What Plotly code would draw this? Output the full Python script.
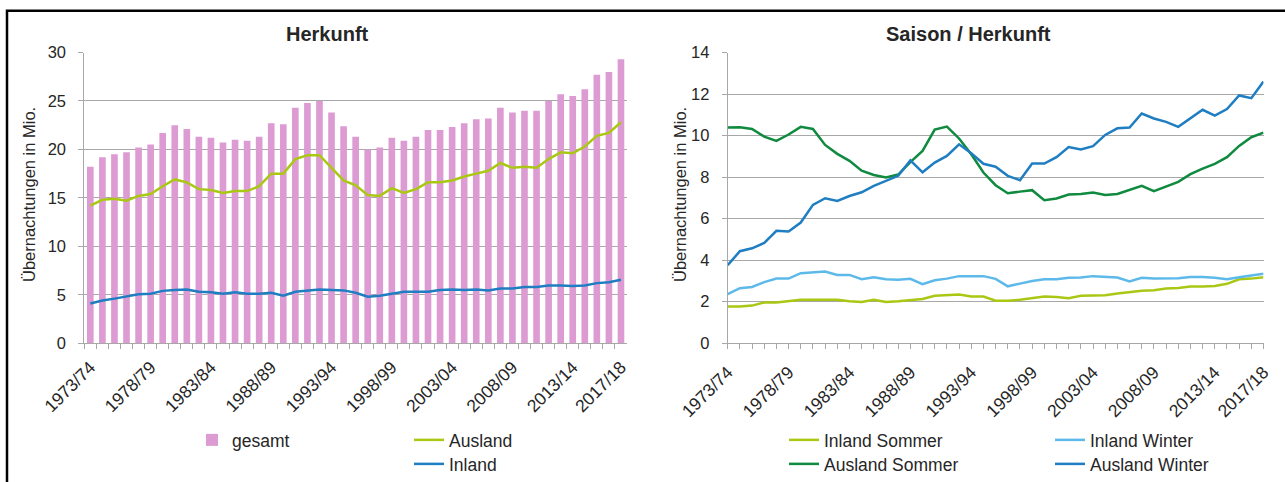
import plotly.graph_objects as go

# ---------------- data ----------------
seasons = [
    "1973/74", "1974/75", "1975/76", "1976/77", "1977/78", "1978/79", "1979/80", "1980/81", "1981/82",
    "1982/83", "1983/84", "1984/85", "1985/86", "1986/87", "1987/88", "1988/89", "1989/90", "1990/91",
    "1991/92", "1992/93", "1993/94", "1994/95", "1995/96", "1996/97", "1997/98", "1998/99", "1999/00",
    "2000/01", "2001/02", "2002/03", "2003/04", "2004/05", "2005/06", "2006/07", "2007/08", "2008/09",
    "2009/10", "2010/11", "2011/12", "2012/13", "2013/14", "2014/15", "2015/16", "2016/17", "2017/18",
]
shown_labels = ["1973/74", "1978/79", "1983/84", "1988/89", "1993/94", "1998/99",
                "2003/04", "2008/09", "2013/14", "2017/18"]

gesamt = [18.2, 19.2, 19.5, 19.7, 20.2, 20.5, 21.7, 22.5, 22.1, 21.3, 21.2, 20.7, 21.0, 20.9, 21.3,
          22.7, 22.6, 24.3, 24.8, 25.0, 23.8, 22.4, 21.3, 20.0, 20.2, 21.2, 20.9, 21.3, 22.0, 22.0,
          22.3, 22.7, 23.1, 23.2, 24.3, 23.8, 24.0, 24.0, 25.0, 25.7, 25.5, 26.2, 27.7, 28.0, 29.3]
ausland = [14.2, 14.8, 14.9, 14.7, 15.2, 15.4, 16.2, 16.9, 16.6, 15.9, 15.8, 15.5, 15.7, 15.7, 16.2,
           17.5, 17.5, 19.0, 19.4, 19.4, 18.1, 16.8, 16.3, 15.3, 15.2, 16.0, 15.5, 15.9, 16.6, 16.6,
           16.8, 17.2, 17.5, 17.8, 18.6, 18.1, 18.2, 18.1, 19.0, 19.7, 19.6, 20.3, 21.4, 21.7, 22.8]
inland = [4.1, 4.4, 4.6, 4.8, 5.05, 5.1, 5.4, 5.5, 5.55, 5.3, 5.25, 5.1, 5.25, 5.1, 5.1,
          5.2, 4.9, 5.3, 5.4, 5.55, 5.5, 5.45, 5.2, 4.8, 4.9, 5.1, 5.3, 5.3, 5.3, 5.5,
          5.55, 5.5, 5.55, 5.45, 5.65, 5.65, 5.8, 5.8, 5.95, 5.95, 5.9, 5.95, 6.2, 6.3, 6.55]

inland_sommer = [1.77, 1.77, 1.81, 1.96, 1.96, 2.02, 2.09, 2.09, 2.09, 2.09, 2.02, 1.99, 2.09, 1.99, 2.02,
                 2.09, 2.13, 2.28, 2.31, 2.34, 2.25, 2.25, 2.05, 2.05, 2.09, 2.18, 2.25, 2.22, 2.17, 2.28,
                 2.28, 2.31, 2.39, 2.46, 2.52, 2.55, 2.63, 2.66, 2.73, 2.73, 2.76, 2.86, 3.08, 3.11, 3.18]
inland_winter = [2.36, 2.65, 2.71, 2.94, 3.11, 3.11, 3.37, 3.42, 3.45, 3.29, 3.29, 3.08, 3.18, 3.08, 3.05,
                 3.10, 2.84, 3.03, 3.11, 3.23, 3.23, 3.23, 3.10, 2.74, 2.87, 3.00, 3.08, 3.08, 3.15, 3.16,
                 3.23, 3.21, 3.16, 2.97, 3.15, 3.11, 3.13, 3.13, 3.19, 3.19, 3.15, 3.08, 3.18, 3.27, 3.35]
ausland_sommer = [10.39, 10.40, 10.32, 9.95, 9.74, 10.05, 10.42, 10.32, 9.55, 9.12, 8.78, 8.31, 8.10, 7.98, 8.12,
                  8.72, 9.26, 10.29, 10.43, 9.86, 9.10, 8.22, 7.61, 7.22, 7.30, 7.37, 6.89, 6.97, 7.16, 7.19,
                  7.26, 7.14, 7.19, 7.38, 7.58, 7.32, 7.53, 7.77, 8.14, 8.41, 8.64, 8.96, 9.50, 9.92, 10.14]
ausland_winter = [3.76, 4.43, 4.57, 4.83, 5.41, 5.38, 5.81, 6.66, 6.98, 6.85, 7.09, 7.27, 7.58, 7.83, 8.06,
                  8.80, 8.23, 8.70, 9.02, 9.58, 9.15, 8.64, 8.50, 8.06, 7.85, 8.65, 8.65, 8.96, 9.45, 9.33,
                  9.49, 10.03, 10.35, 10.39, 11.06, 10.82, 10.66, 10.42, 10.83, 11.24, 10.96, 11.28, 11.93, 11.80, 12.60]

left_yticks = [0, 5, 10, 15, 20, 25, 30]
right_yticks = [0, 2, 4, 6, 8, 10, 12, 14]

# ---------------- style ----------------
W, H = 1285, 482
FONT = "Liberation Sans, Arial, sans-serif"
TXT = "#262626"
GRID = "#a8a8a8"
C_GESAMT = "#dc9bd2"
C_LIME = "#a9c814"
C_BLUE = "#1f7ec2"
C_DGREEN = "#0f8a3f"
C_LBLUE = "#5db9ea"


def px_x(p):
    return p / W


def px_y(p):
    return 1 - p / H


tick_text = [s if s in shown_labels else "" for s in seasons]

fig = go.Figure()

fig.add_trace(go.Bar(x=seasons, y=gesamt, name="gesamt", marker=dict(color=C_GESAMT, line=dict(width=0)),
                     xaxis="x", yaxis="y", legend="legend"))
fig.add_trace(go.Scatter(x=seasons, y=ausland, name="Ausland", mode="lines",
                         line=dict(color=C_LIME, width=2.5), xaxis="x", yaxis="y", legend="legend2"))
fig.add_trace(go.Scatter(x=seasons, y=inland, name="Inland", mode="lines",
                         line=dict(color=C_BLUE, width=2.5), xaxis="x", yaxis="y", legend="legend3"))

fig.add_trace(go.Scatter(x=seasons, y=inland_sommer, name="Inland Sommer", mode="lines",
                         line=dict(color=C_LIME, width=2.5), xaxis="x2", yaxis="y2", legend="legend4"))
fig.add_trace(go.Scatter(x=seasons, y=ausland_sommer, name="Ausland Sommer", mode="lines",
                         line=dict(color=C_DGREEN, width=2.5), xaxis="x2", yaxis="y2", legend="legend5"))
fig.add_trace(go.Scatter(x=seasons, y=inland_winter, name="Inland Winter", mode="lines",
                         line=dict(color=C_LBLUE, width=2.5), xaxis="x2", yaxis="y2", legend="legend6"))
fig.add_trace(go.Scatter(x=seasons, y=ausland_winter, name="Ausland Winter", mode="lines",
                         line=dict(color=C_BLUE, width=2.5), xaxis="x2", yaxis="y2", legend="legend7"))

ydom = [px_y(343.2), px_y(52.5)]

xcommon = dict(type="category", categoryorder="array", categoryarray=seasons,
               tickmode="array", tickvals=seasons, ticktext=tick_text, tickangle=-45,
               ticks="outside", ticklen=5, tickcolor=GRID, showline=True, linecolor=GRID, linewidth=1,
               showgrid=False, zeroline=False, automargin=False, ticklabelstandoff=6,
               tickfont=dict(family=FONT, size=17.5, color=TXT))
ycommon = dict(showline=True, linecolor=GRID, linewidth=1, ticks="outside", ticklen=5, tickcolor=GRID,
               showgrid=True, gridcolor=GRID, gridwidth=1, zeroline=False, automargin=False,
               ticklabelstandoff=9,
               tickfont=dict(family=FONT, size=16.5, color=TXT), fixedrange=True)

fig.update_layout(
    width=W, height=H,
    margin=dict(l=0, r=0, t=0, b=0),
    paper_bgcolor="white", plot_bgcolor="white",
    font=dict(family=FONT, color=TXT),
    bargap=0.45,
    xaxis=dict(domain=[px_x(84.3), px_x(627)], range=[-0.5, len(seasons) - 0.5], tickson="boundaries",
               anchor="y", **xcommon),
    yaxis=dict(domain=ydom, range=[0, 30], tickvals=left_yticks, anchor="x", **ycommon),
    xaxis2=dict(domain=[px_x(727.7), px_x(1263.5)], range=[0, len(seasons) - 1], anchor="y2", **xcommon),
    yaxis2=dict(domain=ydom, range=[0, 14], tickvals=right_yticks, anchor="x2", **ycommon),
    showlegend=True,
)

leg_font = dict(family=FONT, size=17.5, color=TXT)


def leg(xp, yp):
    return dict(x=px_x(xp), y=px_y(yp), xanchor="left", yanchor="middle", orientation="v",
                bgcolor="rgba(0,0,0,0)", borderwidth=0, font=leg_font, itemclick=False,
                itemdoubleclick=False)


fig.update_layout(
    legend=leg(192, 440),
    legend2=leg(409, 440),
    legend3=leg(409, 464),
    legend4=leg(784, 440),
    legend5=leg(784, 464),
    legend6=leg(1050, 440),
    legend7=leg(1050, 464),
)

annotations = [
    dict(text="<b>Herkunft</b>", x=px_x(327), y=px_y(34), xref="paper", yref="paper",
         showarrow=False, xanchor="center", yanchor="middle", font=dict(family=FONT, size=20, color=TXT)),
    dict(text="<b>Saison / Herkunft</b>", x=px_x(968), y=px_y(34), xref="paper", yref="paper",
         showarrow=False, xanchor="center", yanchor="middle", font=dict(family=FONT, size=20, color=TXT)),
    dict(text="Übernachtungen in Mio.", x=px_x(29), y=px_y(195), xref="paper", yref="paper",
         showarrow=False, xanchor="center", yanchor="middle", textangle=-90,
         font=dict(family=FONT, size=16.5, color=TXT)),
    dict(text="Übernachtungen in Mio.", x=px_x(680), y=px_y(195), xref="paper", yref="paper",
         showarrow=False, xanchor="center", yanchor="middle", textangle=-90,
         font=dict(family=FONT, size=16.5, color=TXT)),
]
fig.update_layout(annotations=annotations)

fig.add_shape(type="rect", xref="paper", yref="paper", x0=px_x(7), x1=px_x(W + 20), y0=px_y(H + 20),
              y1=px_y(10.8), line=dict(color="black", width=2.5), fillcolor="rgba(0,0,0,0)", layer="above")

fig.write_html(
    "out.html",
    config={"displayModeBar": False},
    post_script="document.body.style.margin='0';document.body.style.padding='0';"
                "document.body.style.overflow='hidden';",
)
